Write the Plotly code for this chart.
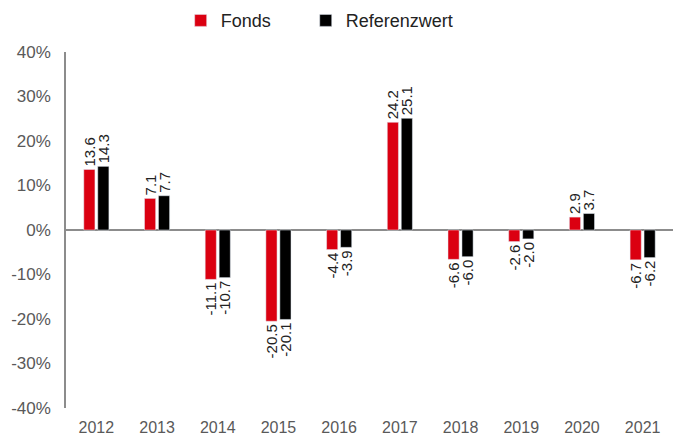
import plotly.graph_objects as go

years = ["2012", "2013", "2014", "2015", "2016", "2017", "2018", "2019", "2020", "2021"]
fonds = [13.6, 7.1, -11.1, -20.5, -4.4, 24.2, -6.6, -2.6, 2.9, -6.7]
referenz = [14.3, 7.7, -10.7, -20.1, -3.9, 25.1, -6.0, -2.0, 3.7, -6.2]
y_ticks = [-40, -30, -20, -10, 0, 10, 20, 30, 40]
y_tick_text = ["-40%", "-30%", "-20%", "-10%", "0%", "10%", "20%", "30%", "40%"]

FONT = "Arial, 'Liberation Sans', sans-serif"
PAD = "\u00a0" * 6  # spacing between legend entries

fig = go.Figure()
fig.add_trace(go.Bar(
    name="Fonds" + PAD, x=years, y=fonds, marker_color="#DB0011",
    texttemplate="%{y:.1f}", textposition="outside", textangle=-90,
    textfont=dict(size=15, color="#222222", family=FONT),
    cliponaxis=False, constraintext="none",
))
fig.add_trace(go.Bar(
    name="Referenzwert", x=years, y=referenz, marker_color="#000000",
    texttemplate="%{y:.1f}", textposition="outside", textangle=-90,
    textfont=dict(size=15, color="#222222", family=FONT),
    cliponaxis=False, constraintext="none",
))

fig.update_layout(
    width=673, height=435,
    margin=dict(l=66, r=0, t=52, b=27, autoexpand=False),
    paper_bgcolor="white", plot_bgcolor="white",
    barmode="group", bargap=0.54, bargroupgap=0.2,
    font=dict(family=FONT, color="#595959", size=17),
    showlegend=True,
    legend=dict(orientation="h", xref="container", x=0.475, xanchor="center",
                yref="container", y=0.995, yanchor="top",
                font=dict(size=18, color="#222222", family=FONT),
                traceorder="normal"),
    xaxis=dict(type="category", showline=False, showgrid=False, ticks="",
               ticklabelstandoff=8,
               tickfont=dict(size=16, color="#595959")),
    yaxis=dict(range=[-40, 40], tickvals=y_ticks, ticktext=y_tick_text,
               showgrid=False, showline=True, linecolor="#8C8C8C", linewidth=1.5,
               zeroline=True, zerolinecolor="#8C8C8C", zerolinewidth=1.5,
               ticks="", ticklabelstandoff=10,
               tickfont=dict(size=17, color="#595959")),
)

fig.write_html("out.html")
